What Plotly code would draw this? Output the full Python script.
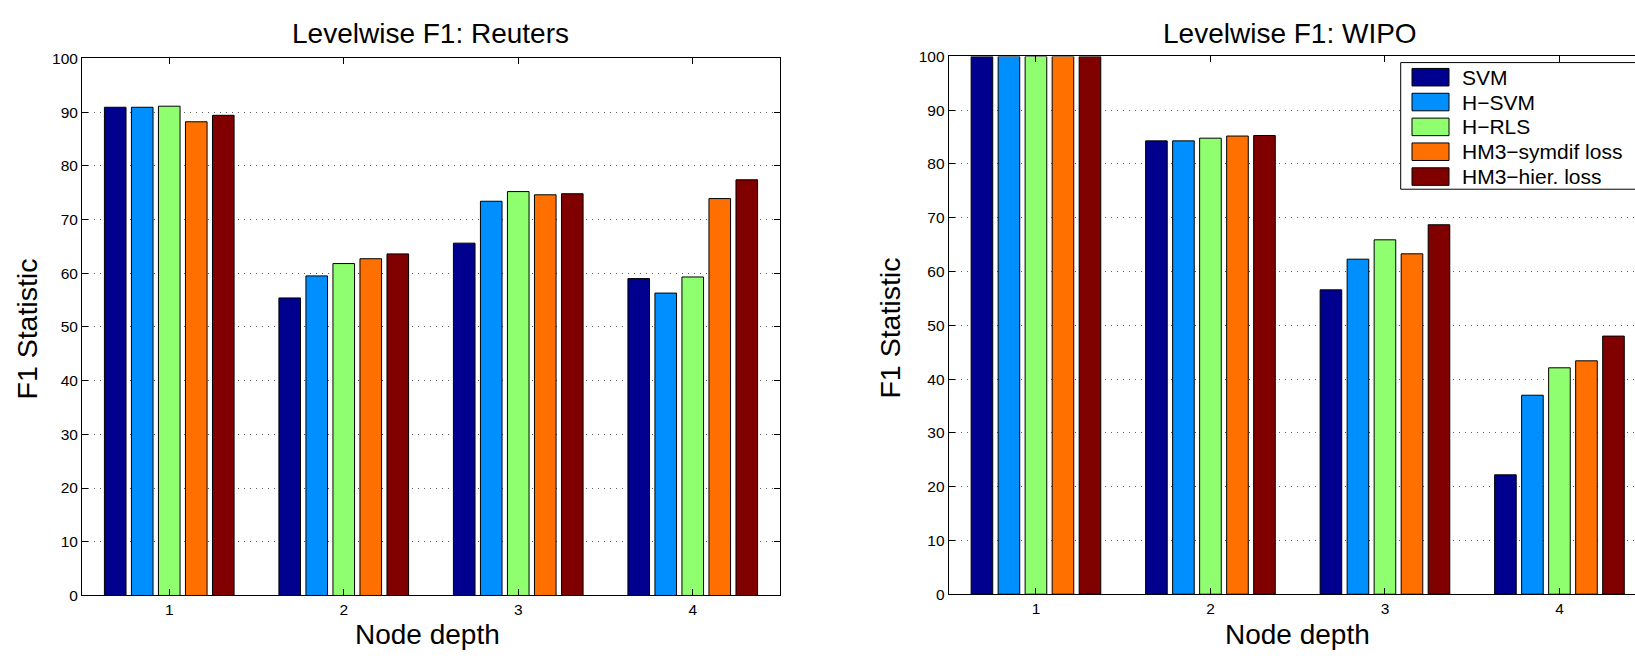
import plotly.graph_objects as go

# ---------------- data ----------------
depths = [1, 2, 3, 4]
depth_labels = ["1", "2", "3", "4"]
series_names = ["SVM", "H−SVM", "H−RLS", "HM3−symdif loss", "HM3−hier. loss"]
series_colors = ["#00008F", "#008FFF", "#8FFF70", "#FF7000", "#800000"]

reuters_svm = [90.9, 55.4, 65.6, 59.0]
reuters_hsvm = [90.9, 59.5, 73.4, 56.3]
reuters_hrls = [91.1, 61.8, 75.2, 59.3]
reuters_hm3_symdif = [88.2, 62.7, 74.6, 73.9]
reuters_hm3_hier = [89.4, 63.6, 74.8, 77.4]

wipo_svm = [100.0, 84.3, 56.6, 22.2]
wipo_hsvm = [100.0, 84.3, 62.3, 37.0]
wipo_hrls = [100.0, 84.8, 65.9, 42.1]
wipo_hm3_symdif = [100.0, 85.2, 63.3, 43.4]
wipo_hm3_hier = [100.0, 85.3, 68.7, 48.0]

y_ticks = [0, 10, 20, 30, 40, 50, 60, 70, 80, 90, 100]

reuters = [reuters_svm, reuters_hsvm, reuters_hrls, reuters_hm3_symdif, reuters_hm3_hier]
wipo = [wipo_svm, wipo_hsvm, wipo_hrls, wipo_hm3_symdif, wipo_hm3_hier]

# ---------------- layout helpers ----------------
W, H = 1635, 659
FONT = "Liberation Sans, Arial, Helvetica, sans-serif"


def px(x):
    return x / W


def py(y):
    return 1 - y / H


fig = go.Figure()

for vals, name, col in zip(reuters, series_names, series_colors):
    fig.add_trace(go.Bar(x=depths, y=vals, name=name, marker_color=col,
                         marker_line_color="black", marker_line_width=1,
                         xaxis="x", yaxis="y", showlegend=False, hoverinfo="skip"))
for vals, name, col in zip(wipo, series_names, series_colors):
    fig.add_trace(go.Bar(x=depths, y=vals, name=name, marker_color=col,
                         marker_line_color="black", marker_line_width=1,
                         xaxis="x2", yaxis="y2", showlegend=False, hoverinfo="skip"))

# axes geometry (page pixels)
L_x0, L_x1, L_y0, L_y1 = 82, 780, 50.7, 602
R_x0, R_y0, R_y1 = 948.7, 48.7, 600.7
cat_w = (L_x1 - L_x0) / 4.0
R_xmax = 0.5 + (W - R_x0) / cat_w

tickfont = dict(family=FONT, size=15.5, color="black")
common_x = dict(tickmode="array", tickvals=depths, ticktext=depth_labels,
                showline=True, linecolor="black", linewidth=1,
                ticks="inside", ticklen=6, tickcolor="black",
                showgrid=False, zeroline=False, tickfont=tickfont)
common_y = dict(tickmode="array", tickvals=y_ticks, range=[0, 100],
                showline=True, linecolor="black", linewidth=1,
                ticks="inside", ticklen=6, tickcolor="black",
                showgrid=True, gridcolor="#606060", gridwidth=1, griddash="1px,5px",
                zeroline=False, tickfont=tickfont)

fig.update_layout(
    width=W, height=H,
    margin=dict(l=0, r=0, t=0, b=0),
    paper_bgcolor="white", plot_bgcolor="white",
    barmode="group", bargap=0.226, bargroupgap=0.2,
    font=dict(family=FONT, color="black"),
    xaxis=dict(domain=[px(L_x0), px(L_x1)], range=[0.5, 4.5], anchor="y",
               mirror="ticks", **common_x),
    yaxis=dict(domain=[py(L_y1), py(L_y0)], anchor="x", mirror="ticks", **common_y),
    xaxis2=dict(domain=[px(R_x0), 1.0], range=[0.5, R_xmax], anchor="y2",
                mirror="ticks", **common_x),
    yaxis2=dict(domain=[py(R_y1), py(R_y0)], anchor="x2", mirror=False, **common_y),
)

ann = []
# panel titles
for text, cx in [("Levelwise F1: Reuters", 431), ("Levelwise F1: WIPO", 1290)]:
    ann.append(dict(text=text, x=px(cx), y=py(25), xref="paper", yref="paper",
                    showarrow=False, xanchor="center", yanchor="middle",
                    font=dict(family=FONT, size=28, color="black")))
# x-axis titles
for cx in [427, 1297]:
    ann.append(dict(text="Node depth", x=px(cx), y=py(642), xref="paper", yref="paper",
                    showarrow=False, xanchor="center", yanchor="middle",
                    font=dict(family=FONT, size=28, color="black")))
# y-axis titles
for cx, cy in [(27, 329), (890, 328)]:
    ann.append(dict(text="F1 Statistic", x=px(cx), y=py(cy), textangle=-90,
                    xref="paper", yref="paper", showarrow=False,
                    xanchor="center", yanchor="middle",
                    font=dict(family=FONT, size=28.5, color="black")))

# legend of the WIPO panel, cut by the right edge like the reference
shapes = []
leg_x0, leg_y0, leg_y1 = 1400.7, 55, 185
shapes.append(dict(type="rect", xref="paper", yref="paper",
                   x0=px(leg_x0), x1=px(W + 30), y0=py(leg_y1), y1=py(leg_y0),
                   line=dict(color="black", width=1), fillcolor="white", layer="above"))
for i, (name, col) in enumerate(zip(series_names, series_colors)):
    cy = 70 + 25.5 * i
    shapes.append(dict(type="rect", xref="paper", yref="paper",
                       x0=px(1412), x1=px(1449), y0=py(cy + 9), y1=py(cy - 9),
                       line=dict(color="black", width=1), fillcolor=col, layer="above"))
    ann.append(dict(text=name, x=px(1460), y=py(cy), xref="paper", yref="paper",
                    showarrow=False, xanchor="left", yanchor="middle",
                    font=dict(family=FONT, size=21, color="black")))

fig.update_layout(annotations=ann, shapes=shapes)

# static figure, and no default body margin so the figure fills the window exactly
fig.write_html("out.html", config={"displayModeBar": False, "staticPlot": True},
               post_script="document.body.style.margin='0';document.body.style.overflow='hidden';")
